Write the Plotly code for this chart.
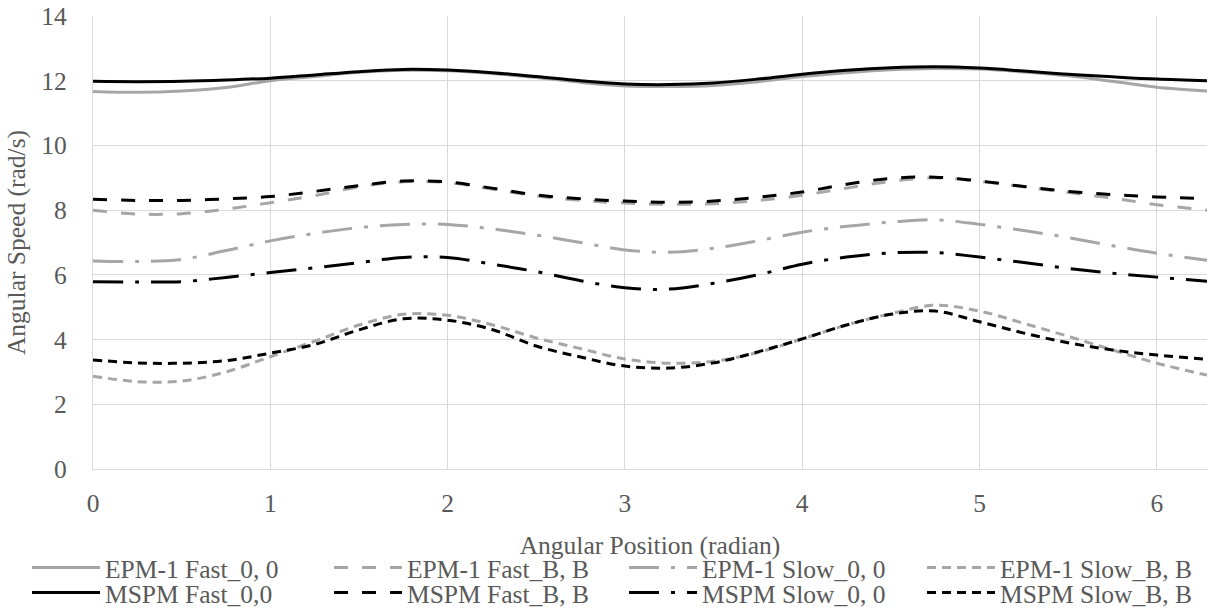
import plotly.graph_objects as go

x = [0, 0.25, 0.5, 0.75, 1, 1.25, 1.5, 1.75, 2, 2.25, 2.5, 2.75, 3, 3.25, 3.5,
     3.75, 4, 4.25, 4.5, 4.75, 5, 5.25, 5.5, 5.75, 6, 6.283]

epm_fast_0 = [11.67, 11.64, 11.68, 11.79, 12.0, 12.13, 12.26, 12.32, 12.31, 12.22, 12.1, 11.95, 11.84,
              11.82, 11.85, 11.97, 12.13, 12.25, 12.34, 12.38, 12.36, 12.27, 12.15, 11.98, 11.8, 11.68]
epm_fast_b = [8.0, 7.88, 7.89, 8.03, 8.23, 8.45, 8.72, 8.88, 8.85, 8.65, 8.44, 8.3, 8.22,
              8.18, 8.2, 8.3, 8.46, 8.68, 8.89, 9.0, 8.89, 8.72, 8.55, 8.37, 8.17, 8.0]
epm_slow_0 = [6.43, 6.41, 6.48, 6.75, 7.05, 7.28, 7.46, 7.56, 7.56, 7.42, 7.23, 7.0, 6.77,
              6.7, 6.82, 7.05, 7.32, 7.5, 7.63, 7.7, 7.56, 7.37, 7.15, 6.9, 6.67, 6.45]
epm_slow_b = [2.87, 2.7, 2.72, 3.0, 3.47, 3.95, 4.45, 4.78, 4.75, 4.46, 4.05, 3.72, 3.4,
              3.27, 3.33, 3.6, 4.02, 4.45, 4.8, 5.06, 4.88, 4.5, 4.1, 3.68, 3.27, 2.9]
mspm_fast_0 = [11.98, 11.97, 11.98, 12.02, 12.08, 12.18, 12.28, 12.35, 12.33, 12.25, 12.13, 12.0, 11.9,
               11.88, 11.93, 12.05, 12.2, 12.32, 12.4, 12.43, 12.39, 12.3, 12.2, 12.12, 12.05, 12.0]
mspm_fast_b = [8.34, 8.3, 8.3, 8.35, 8.42, 8.58, 8.76, 8.9, 8.87, 8.68, 8.47, 8.35, 8.28,
               8.24, 8.28, 8.4, 8.56, 8.8, 8.98, 9.02, 8.9, 8.73, 8.58, 8.48, 8.41, 8.35]
mspm_slow_0 = [5.79, 5.78, 5.79, 5.92, 6.07, 6.22, 6.38, 6.54, 6.54, 6.33, 6.1, 5.82, 5.6,
               5.56, 5.74, 6.0, 6.33, 6.55, 6.68, 6.69, 6.55, 6.38, 6.2, 6.05, 5.93, 5.8]
mspm_slow_b = [3.37, 3.28, 3.27, 3.35, 3.58, 3.85, 4.3, 4.64, 4.6, 4.31, 3.8, 3.46, 3.18,
               3.12, 3.28, 3.62, 4.02, 4.45, 4.78, 4.88, 4.55, 4.2, 3.9, 3.68, 3.52, 3.39]

x_ticks = [0, 1, 2, 3, 4, 5, 6]
y_ticks = [0, 2, 4, 6, 8, 10, 12, 14]

GRAY = "#A6A6A6"
BLACK = "#000000"
TXT = "#595959"
FONT = "Liberation Serif, serif"
FS = 25.5

DASH = "14px,14px"
DASHDOT = "30px,12px,4px,12px"
SHORT = "9px,6px"

series = [
    ("EPM-1 Fast_0, 0", epm_fast_0, GRAY, "solid"),
    ("EPM-1 Fast_B, B", epm_fast_b, GRAY, DASH),
    ("EPM-1 Slow_0, 0", epm_slow_0, GRAY, DASHDOT),
    ("EPM-1 Slow_B, B", epm_slow_b, GRAY, SHORT),
    ("MSPM Fast_0,0", mspm_fast_0, BLACK, "solid"),
    ("MSPM Fast_B, B", mspm_fast_b, BLACK, DASH),
    ("MSPM Slow_0, 0", mspm_slow_0, BLACK, DASHDOT),
    ("MSPM Slow_B, B", mspm_slow_b, BLACK, SHORT),
]

W, H = 1211, 613
L, R, T, B = 93, 4, 16, 144
pw = W - L - R
ph = H - T - B

col_px = [27, 329, 624, 922]
row_py = [568, 593]

fig = go.Figure()
layout_legends = {}
for i, (name, ys, col, dash) in enumerate(series):
    lg = "legend" if i == 0 else f"legend{i+1}"
    fig.add_trace(go.Scatter(
        x=x, y=ys, name=name, mode="lines",
        line=dict(color=col, width=3, dash=dash, shape="spline", smoothing=1.0),
        legend=lg,
    ))
    c = i % 4
    r = i // 4
    layout_legends[lg] = dict(
        x=(col_px[c] - L) / pw, y=(T + ph - row_py[r]) / ph,
        xanchor="left", yanchor="middle",
        xref="paper", yref="paper",
        bgcolor="rgba(0,0,0,0)", borderwidth=0,
        font=dict(family=FONT, size=FS, color=TXT),
        itemwidth=68, tracegroupgap=0,
    )

fig.update_layout(
    width=W, height=H,
    margin=dict(l=L, r=R, t=T, b=B, autoexpand=False),
    paper_bgcolor="white", plot_bgcolor="white",
    font=dict(family=FONT, size=FS, color=TXT),
    showlegend=True,
    **layout_legends,
)

fig.update_xaxes(
    range=[0, 6.283], tickvals=x_ticks, ticktext=[str(v) for v in x_ticks],
    showgrid=True, gridcolor="#D9D9D9", gridwidth=1.3,
    showline=True, linecolor="#D9D9D9", linewidth=1.3,
    zeroline=False, ticks="", ticklabelstandoff=11, ticklabeloverflow="allow",
    tickfont=dict(family=FONT, size=FS, color=TXT),
    title=dict(text="Angular Position (radian)", standoff=19,
               font=dict(family=FONT, size=FS, color=TXT)),
    automargin=False,
)
fig.update_yaxes(
    range=[0, 14], tickvals=y_ticks, ticktext=[str(v) for v in y_ticks],
    showgrid=True, gridcolor="#D9D9D9", gridwidth=1.3,
    showline=True, linecolor="#D9D9D9", linewidth=1.3,
    zeroline=False, ticks="", ticklabelstandoff=20, ticklabeloverflow="allow",
    tickfont=dict(family=FONT, size=FS, color=TXT),
    title=dict(text="Angular Speed (rad/s)", standoff=8,
               font=dict(family=FONT, size=FS, color=TXT)),
    automargin=False,
)

fig.write_html("out.html",
               config={"displayModeBar": False},
               post_script="document.body.style.margin='0';document.body.style.overflow='hidden';")
